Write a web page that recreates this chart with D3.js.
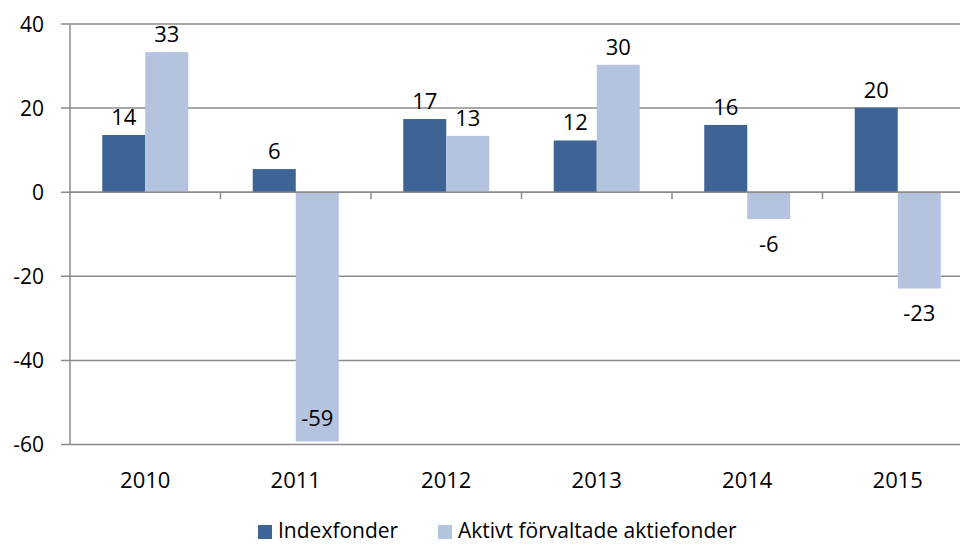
<!DOCTYPE html>
<meta charset="utf-8">
<style>
    body { margin: 0; background: #fff; }
    svg text { font-family: "Open Sans", sans-serif; fill: #000; }
    .grid line { stroke: #8c8c8c; stroke-width: 1.5px; }
    .yaxis text { font-size: 21px; }
    .xaxis text { font-size: 22px; }
    .labels text { font-size: 22px; }
    .legend text { font-size: 21px; }
</style>
<svg width="960" height="545"></svg>
<script src="https://cdn.jsdelivr.net/npm/d3@7"></script>
<script>

    var years = ["2010", "2011", "2012", "2013", "2014", "2015"];
    var seriesNames = ["Indexfonder", "Aktivt förvaltade aktiefonder"];
    var indexfonder = [13.6, 5.5, 17.4, 12.3, 16.0, 20.1];
    var aktiva = [33.3, -59.3, 13.4, 30.3, -6.4, -22.9];
    var labelIndex = ["14", "6", "17", "12", "16", "20"];
    var labelAktiva = ["33", "-59", "13", "30", "-6", "-23"];
    var yTicks = [40, 20, 0, -20, -40, -60];

    var colors = ["#3d6494", "#b4c3de"];

    var svg = d3.select("svg");
    var plotLeft = 70, plotRight = 973, plotTop = 24, plotBottom = 444.5;

    var y = d3.scaleLinear().domain([-60, 40]).range([plotBottom, plotTop]);
    var x0 = d3.scaleBand().domain(years).range([plotLeft, plotRight]);
    var x1 = d3.scaleBand().domain(seriesNames).range([32.25, x0.step() - 32.25]);

    // gridlines + y labels
    var grid = svg.append("g").attr("class", "grid");
    grid.selectAll("line").data(yTicks).enter().append("line")
        .attr("x1", plotLeft - 9).attr("x2", 960)
        .attr("y1", function(d) { return y(d); })
        .attr("y2", function(d) { return y(d); });

    var yaxis = svg.append("g").attr("class", "yaxis");
    yaxis.selectAll("text").data(yTicks).enter().append("text")
        .attr("x", 44)
        .attr("y", function(d) { return y(d) + 7.5; })
        .attr("text-anchor", "end")
        .text(function(d) { return d; });

    // bars
    var data = years.map(function(yr, i) {
        return {year: yr, values: [
            {name: seriesNames[0], v: indexfonder[i], label: labelIndex[i], c: colors[0]},
            {name: seriesNames[1], v: aktiva[i], label: labelAktiva[i], c: colors[1]}
        ]};
    });

    var groups = svg.append("g").selectAll("g").data(data).enter().append("g")
        .attr("transform", function(d) { return "translate(" + x0(d.year) + ",0)"; });

    groups.selectAll("rect").data(function(d) { return d.values; }).enter().append("rect")
        .attr("x", function(d) { return x1(d.name); })
        .attr("width", x1.bandwidth())
        .attr("y", function(d) { return y(Math.max(0, d.v)); })
        .attr("height", function(d) { return Math.abs(y(d.v) - y(0)); })
        .attr("fill", function(d) { return d.c; });

    // axis lines
    svg.append("line").attr("x1", plotLeft).attr("x2", plotLeft).attr("y1", plotTop).attr("y2", plotBottom)
        .attr("stroke", "#8c8c8c").attr("stroke-width", 1.5);
    svg.append("line").attr("x1", plotLeft).attr("x2", 960).attr("y1", y(0)).attr("y2", y(0))
        .attr("stroke", "#8c8c8c").attr("stroke-width", 1.5);
    svg.append("g").selectAll("line").data(years.slice(1)).enter().append("line")
        .attr("x1", function(d) { return x0(d); })
        .attr("x2", function(d) { return x0(d); })
        .attr("y1", y(0)).attr("y2", y(0) + 7)
        .attr("stroke", "#8c8c8c").attr("stroke-width", 1.5);

    // value labels
    groups.append("g").attr("class", "labels")
        .selectAll("text").data(function(d) { return d.values; }).enter().append("text")
        .attr("text-anchor", "middle")
        .attr("x", function(d) { return x1(d.name) + x1.bandwidth() / 2; })
        .attr("y", function(d) {
            if (d.v >= 0) return y(d.v) - 10;
            var yy = y(d.v) + 33;
            return yy > plotBottom ? y(d.v) - 16 : yy;
        })
        .text(function(d) { return d.label; });

    // category labels
    svg.append("g").attr("class", "xaxis").selectAll("text").data(years).enter().append("text")
        .attr("x", function(d) { return x0(d) + x0.bandwidth() / 2; })
        .attr("y", 488)
        .attr("text-anchor", "middle")
        .text(function(d) { return d; });

    // legend
    var legendX = [258, 438];
    var legend = svg.append("g").attr("class", "legend").selectAll("g").data(seriesNames).enter().append("g")
        .attr("transform", function(d, i) { return "translate(" + legendX[i] + ",524)"; });
    legend.append("rect").attr("y", 1).attr("width", 14).attr("height", 14)
        .attr("fill", function(d, i) { return colors[i]; });
    legend.append("text").attr("x", 20).attr("y", 14).text(function(d) { return d; });

</script>
